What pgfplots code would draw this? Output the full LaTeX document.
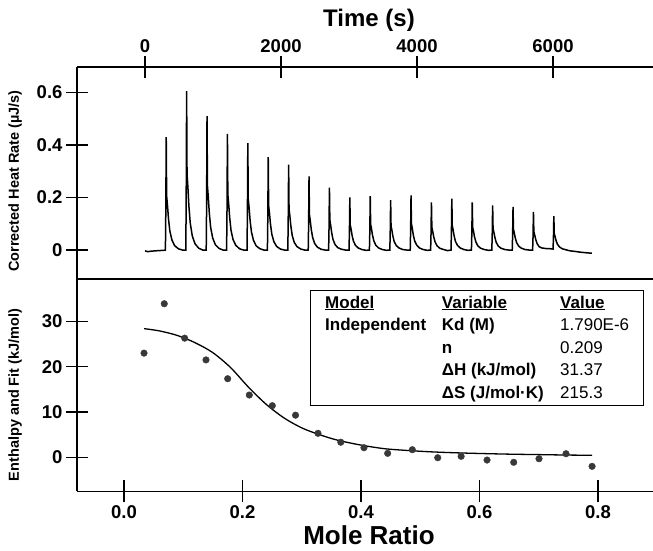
\documentclass[border=0pt]{standalone}
\usepackage{fontspec}
\setmainfont{Liberation Sans}
\usepackage{pgfplots}
\pgfplotsset{compat=1.18}
\pgfplotstableread{
t y
0 -0.003
40 -0.006
100 -0.004
200 -0.002
280 -0.001
300 0
306 0.150
312 0.429
318 0.206
330 0.172
345 0.120
365 0.073
395 0.039
435 0.017
490 0.005
550 0
600 0
606 0.211
612 0.604
618 0.290
630 0.242
645 0.169
665 0.103
695 0.054
735 0.024
790 0.007
850 0
900 0
906 0.178
912 0.509
918 0.244
930 0.204
945 0.143
965 0.087
995 0.046
1035 0.020
1090 0.006
1150 0
1200 0
1206 0.155
1212 0.442
1218 0.212
1230 0.177
1245 0.124
1265 0.075
1295 0.040
1335 0.018
1390 0.005
1450 0
1500 0
1506 0.142
1512 0.407
1518 0.195
1530 0.163
1545 0.114
1565 0.069
1595 0.037
1635 0.016
1690 0.005
1750 0
1800 0
1806 0.124
1812 0.353
1818 0.169
1830 0.141
1845 0.099
1865 0.060
1895 0.032
1935 0.014
1990 0.004
2050 0
2100 0
2106 0.114
2112 0.325
2118 0.156
2130 0.130
2145 0.091
2165 0.055
2195 0.029
2235 0.013
2290 0.004
2350 0
2400 0
2406 0.098
2412 0.280
2418 0.134
2430 0.112
2445 0.078
2465 0.048
2495 0.025
2535 0.011
2590 0.003
2650 0
2700 0
2706 0.083
2712 0.237
2718 0.114
2730 0.095
2745 0.066
2765 0.040
2795 0.021
2835 0.009
2890 0.003
2950 0
3000 0
3006 0.070
3012 0.200
3018 0.096
3030 0.080
3045 0.056
3065 0.034
3095 0.018
3135 0.008
3190 0.002
3250 -0.001
3300 0
3306 0.072
3312 0.205
3318 0.098
3330 0.082
3345 0.057
3365 0.035
3395 0.018
3435 0.008
3490 0.002
3550 -0.001
3600 0
3606 0.067
3612 0.190
3618 0.091
3630 0.076
3645 0.053
3665 0.032
3695 0.017
3735 0.008
3790 0.002
3850 0
3900 0
3906 0.073
3912 0.208
3918 0.100
3930 0.083
3945 0.058
3965 0.035
3995 0.019
4035 0.008
4090 0.002
4150 -0.001
4200 0
4206 0.063
4212 0.181
4218 0.087
4230 0.072
4245 0.051
4265 0.031
4295 0.016
4335 0.007
4390 0.002
4450 -0.002
4500 0
4506 0.069
4512 0.196
4518 0.094
4530 0.078
4545 0.055
4565 0.033
4595 0.018
4635 0.008
4690 0.002
4750 -0.001
4800 0
4806 0.063
4812 0.181
4818 0.087
4830 0.072
4845 0.051
4865 0.031
4895 0.016
4935 0.007
4990 0.002
5050 -0.001
5100 0
5106 0.060
5112 0.170
5118 0.082
5130 0.068
5145 0.048
5165 0.029
5195 0.015
5235 0.007
5290 0.002
5350 0
5400 0
5406 0.057
5412 0.164
5418 0.079
5430 0.066
5445 0.046
5465 0.028
5495 0.015
5535 0.007
5590 0.002
5650 0
5700 0
5706 0.051
5712 0.145
5718 0.070
5730 0.058
5745 0.041
5765 0.025
5795 0.013
5835 0.008
5890 0.006
5960 0.005
5995 0.004
6000 0.004
6006 0.045
6012 0.129
6018 0.062
6030 0.052
6045 0.036
6065 0.022
6095 0.012
6135 0.005
6190 0.001
6250 -0.003
6320 -0.005
6400 -0.008
6480 -0.010
6570 -0.012
}\thermo
\pgfplotstableread{
x y
0.0338 23.0
0.0680 33.9
0.1024 26.3
0.1384 21.5
0.1750 17.35
0.2115 13.75
0.2503 11.4
0.2895 9.3
0.3274 5.3
0.3659 3.33
0.4050 2.12
0.4450 0.88
0.4866 1.68
0.5295 -0.09
0.5690 0.22
0.6127 -0.6
0.6577 -1.1
0.7004 -0.31
0.7460 0.79
0.7900 -1.99
}\enth
\pgfplotstableread{
x y
0.034 28.4
0.06 27.9
0.09 26.9
0.12 25.3
0.15 23.1
0.18 19.8
0.21 15.5
0.24 11.7
0.27 8.7
0.30 6.5
0.33 5.0
0.36 3.8
0.40 2.7
0.44 1.9
0.48 1.5
0.52 1.2
0.56 1.0
0.60 0.85
0.65 0.7
0.70 0.6
0.75 0.5
0.79 0.45
}\fit
\pgfplotsset{
  common/.style={
    scale only axis, width=576pt,
    enlargelimits=false,
    every tick/.style={line width=1.3pt, black},
    tick align=center, major tick length=22pt,
    tick label style={font=\fontsize{18.5}{22}\selectfont\bfseries},
    ylabel style={font=\fontsize{14.5}{17}\selectfont\bfseries, anchor=center},
  }
}
\begin{document}
\begin{tikzpicture}
\path[use as bounding box] (0pt,0pt) rectangle (653pt,550pt);
\begin{axis}[common,
  at={(77pt,271pt)}, anchor=south west, height=212pt,
  xmin=-1000, xmax=7470, ymin=-0.11, ymax=0.696,
  axis x line=top, axis y line=left,
  axis line style={-, line width=1.4pt},
  xtick={0,2000,4000,6000}, xticklabels={0,2000,4000,6000},
  ytick={0,0.2,0.4,0.6}, yticklabels={0,0.2,0.4,0.6},
  xlabel={Time (s)},
  xlabel style={font=\fontsize{24}{28}\selectfont\bfseries, at={(axis description cs:0.5,1)}, anchor=center, yshift=47pt, xshift=4pt},
  ylabel={Corrected Heat Rate (µJ/s)},
  ylabel style={at={(axis description cs:-0.1076,0.462)}},
]
\addplot[black, line width=1.5pt] table[x=t,y=y] {\thermo};
\end{axis}
\begin{axis}[common,
  at={(77pt,58.7pt)}, anchor=south west, height=212.3pt,
  xmin=-0.0793, xmax=0.8928, ymin=-7.5, ymax=39.36,
  axis x line=bottom, axis y line=left,
  axis line style={-, line width=1.4pt},
  xtick={0,0.2,0.4,0.6,0.8}, xticklabels={0.0,0.2,0.4,0.6,0.8},
  ytick={0,10,20,30}, yticklabels={0,10,20,30},
  xlabel={Mole Ratio},
  xlabel style={font=\fontsize{26}{30}\selectfont\bfseries, at={(axis description cs:0.5,0)}, anchor=center, yshift=-43.7pt, xshift=4pt},
  ylabel={Enthalpy and Fit (kJ/mol)},
  ylabel style={at={(axis description cs:-0.1076,0.454)}},
]
\addplot[black, line width=1.3pt, smooth] table[x=x,y=y] {\fit};
\addplot[only marks, mark=*, mark size=3.3pt, mark options={fill=black!78, draw=black!78}] table[x=x,y=y] {\enth};
\end{axis}
\draw[line width=1.4pt] (77pt,271pt) -- (653pt,271pt);
\draw[line width=1pt, fill=white] (310pt,145pt) rectangle (643pt,260pt);
\begin{scope}[every node/.style={anchor=base west, inner sep=0pt, font=\fontsize{17}{20}\selectfont}]
\node[font=\fontsize{17}{20}\selectfont\bfseries] at (325pt,242pt) {\underline{Model}};
\node[font=\fontsize{17}{20}\selectfont\bfseries] at (441.7pt,242pt) {\underline{Variable}};
\node[font=\fontsize{17}{20}\selectfont\bfseries] at (560pt,242pt) {\underline{Value}};
\node[font=\fontsize{17}{20}\selectfont\bfseries] at (325pt,219.5pt) {Independent};
\node[font=\fontsize{17}{20}\selectfont\bfseries] at (441.7pt,219.5pt) {Kd (M)};
\node at (560pt,219.5pt) {1.790E-6};
\node[font=\fontsize{17}{20}\selectfont\bfseries] at (441.7pt,197pt) {n};
\node at (560pt,197pt) {0.209};
\node[font=\fontsize{17}{20}\selectfont\bfseries] at (441.7pt,174.5pt) {ΔH (kJ/mol)};
\node at (560pt,174.5pt) {31.37};
\node[font=\fontsize{17}{20}\selectfont\bfseries] at (441.7pt,152pt) {ΔS (J/mol·K)};
\node at (560pt,152pt) {215.3};
\end{scope}
\end{tikzpicture}
\end{document}
